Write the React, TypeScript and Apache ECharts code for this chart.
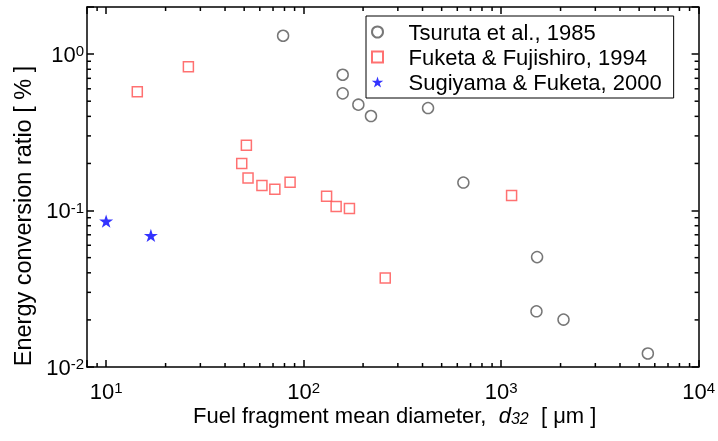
import React, { useEffect, useRef } from "react";
import * as echarts from "echarts";

// ---- data ----
const tsurutaX = [78.7, 157.7, 157.7, 189.3, 219.3, 426.6, 644, 1521, 1510, 2070, 5534];
const tsurutaY = [1.31, 0.738, 0.561, 0.475, 0.402, 0.452, 0.151, 0.0504, 0.0227, 0.0201, 0.0122];

const fuketaX = [14.38, 26.09, 51.3, 48.6, 52.3, 61.5, 71.5, 85.4, 130.7, 146.1, 170.6, 259, 1130];
const fuketaY = [0.575, 0.83, 0.261, 0.1995, 0.1617, 0.1444, 0.1368, 0.1516, 0.1234, 0.106, 0.103, 0.037, 0.1246];

const sugiyamaX = [10, 16.85];
const sugiyamaY = [0.0855, 0.0693];

const seriesNames = ["Tsuruta et al., 1985", "Fuketa & Fujishiro, 1994", "Sugiyama & Fuketa, 2000"];

// ---- axes ----
const xMin = 8;
const xMax = 10000;
const yMin = 0.01;
const yMax = 2;
const xMinorTicks = [9, 20, 30, 40, 50, 60, 70, 80, 90, 200, 300, 400, 500, 600, 700, 800, 900, 2000, 3000, 4000, 5000, 6000, 7000, 8000, 9000];
const yMinorTicks = [0.02, 0.03, 0.04, 0.05, 0.06, 0.07, 0.08, 0.09, 0.2, 0.3, 0.4, 0.5, 0.6, 0.7, 0.8, 0.9];

const FONT = "'Liberation Sans', Arial, sans-serif";
const STAR = "path://M50,0 L61.2,34.5 L97.6,34.5 L68.2,55.9 L79.4,90.5 L50,69.1 L20.6,90.5 L31.8,55.9 L2.4,34.5 L38.8,34.5 Z";
const SQUARE = "path://M0,0 L10,0 L10,10 L0,10 Z";
const TICK_W = 1.5;

const zip = (xs: number[], ys: number[]) => xs.map((x, i) => [x, ys[i]]);

// only powers of ten get a label (edge ticks at 8 and 2 stay blank)
const powLabel = (v: number) => {
  const l = Math.log10(v);
  const e = Math.round(l);
  if (Math.abs(l - e) > 1e-6) return "";
  return `{b|10}{e|${e}}`;
};

const labelRich = {
  b: { fontSize: 22, lineHeight: 22, fontFamily: FONT, color: "#000" },
  e: { fontSize: 15, lineHeight: 6, verticalAlign: "top", fontFamily: FONT, color: "#000" },
};

function makeAxis(kind: "x" | "y", position: string, showLabel: boolean) {
  const isX = kind === "x";
  return {
    type: "log",
    min: isX ? xMin : yMin,
    max: isX ? xMax : yMax,
    position,
    axisLine: { show: true, lineStyle: { color: "#000", width: 1.5 } },
    axisTick: { show: true, inside: true, length: 7, lineStyle: { color: "#000", width: TICK_W } },
    axisLabel: showLabel
      ? { show: true, formatter: powLabel, rich: labelRich, margin: isX ? 13 : 3, showMinLabel: true, showMaxLabel: true }
      : { show: false },
    splitLine: { show: false },
  };
}

// minor tick marks drawn through the axes' own log scales (api.coord)
function minorTickSeries(kind: "x" | "y", values: number[], len: number) {
  const isX = kind === "x";
  return {
    type: "custom",
    xAxisIndex: 0,
    yAxisIndex: 0,
    clip: false,
    data: values.map((v) => (isX ? [v, yMin] : [xMin, v])),
    renderItem: (params: any, api: any) => {
      const v = api.value(isX ? 0 : 1);
      const fill = { fill: "#000" };
      if (isX) {
        const b = api.coord([v, yMin]);
        const t = api.coord([v, yMax]);
        return {
          type: "group",
          children: [
            { type: "rect", shape: { x: b[0] - TICK_W / 2, y: b[1] - len, width: TICK_W, height: len }, style: fill },
            { type: "rect", shape: { x: t[0] - TICK_W / 2, y: t[1], width: TICK_W, height: len }, style: fill },
          ],
        };
      }
      const l = api.coord([xMin, v]);
      const r = api.coord([xMax, v]);
      return {
        type: "group",
        children: [
          { type: "rect", shape: { x: l[0], y: l[1] - TICK_W / 2, width: len, height: TICK_W }, style: fill },
          { type: "rect", shape: { x: r[0] - len, y: r[1] - TICK_W / 2, width: len, height: TICK_W }, style: fill },
        ],
      };
    },
  };
}

const titleGraphics = [
  {
    type: "text",
    x: 193,
    y: 415,
    style: {
      text: "{n|Fuel fragment mean diameter,  }{i|d}{s|32}{n|  [ μm ]}",
      verticalAlign: "middle",
      align: "left",
      rich: {
        n: { fontSize: 22, lineHeight: 22, fontFamily: FONT, fill: "#000" },
        i: { fontSize: 22, lineHeight: 22, fontStyle: "italic", fontFamily: FONT, fill: "#000" },
        s: { fontSize: 16, lineHeight: 6, verticalAlign: "bottom", fontStyle: "italic", fontFamily: FONT, fill: "#000" },
      },
    },
  },
  {
    type: "text",
    x: 23,
    y: 216,
    rotation: Math.PI / 2,
    style: {
      text: "Energy conversion ratio [ % ]",
      align: "center",
      verticalAlign: "middle",
      fontSize: 23.5,
      fontFamily: FONT,
      fill: "#000",
    },
  },
];

export default function App() {
  const ref = useRef<HTMLDivElement>(null);
  useEffect(() => {
    if (!ref.current) return;
    const chart = echarts.init(ref.current, undefined, { renderer: "svg" });
    chart.setOption({
      animation: false,
      grid: { left: 87, top: 7, right: 16, bottom: 74 },
      xAxis: [makeAxis("x", "bottom", true), makeAxis("x", "top", false)],
      yAxis: [makeAxis("y", "left", true), makeAxis("y", "right", false)],
      legend: {
        orient: "vertical",
        left: 366,
        top: 16,
        padding: [5, 12, 5, 5],
        itemWidth: 52,
        itemHeight: 11,
        itemGap: 3,
        borderColor: "#000",
        borderWidth: 1,
        backgroundColor: "#fff",
        textStyle: { fontSize: 22, lineHeight: 22, fontFamily: FONT, color: "#000" },
        data: [
          { name: seriesNames[0], icon: "circle" },
          { name: seriesNames[1], icon: SQUARE },
          { name: seriesNames[2], icon: STAR },
        ],
      },
      series: [
        minorTickSeries("x", xMinorTicks, 4),
        minorTickSeries("y", yMinorTicks, 4),
        {
          name: seriesNames[0],
          type: "scatter",
          symbol: "circle",
          symbolSize: 11,
          itemStyle: { color: "#fff", borderColor: "#555", borderWidth: 1.5 },
          data: zip(tsurutaX, tsurutaY),
        },
        {
          name: seriesNames[1],
          type: "scatter",
          symbol: "rect",
          symbolSize: 10,
          itemStyle: { color: "#fff", borderColor: "#ff4d4d", borderWidth: 1.5 },
          data: zip(fuketaX, fuketaY),
        },
        {
          name: seriesNames[2],
          type: "scatter",
          symbol: STAR,
          symbolSize: 14,
          symbolKeepAspect: true,
          itemStyle: { color: "#0000ff" },
          data: zip(sugiyamaX, sugiyamaY),
        },
      ],
      graphic: titleGraphics,
    });
    return () => chart.dispose();
  }, []);
  return <div ref={ref} style={{ position: "fixed", left: 0, top: 0, width: 718, height: 441 }} />;
}
